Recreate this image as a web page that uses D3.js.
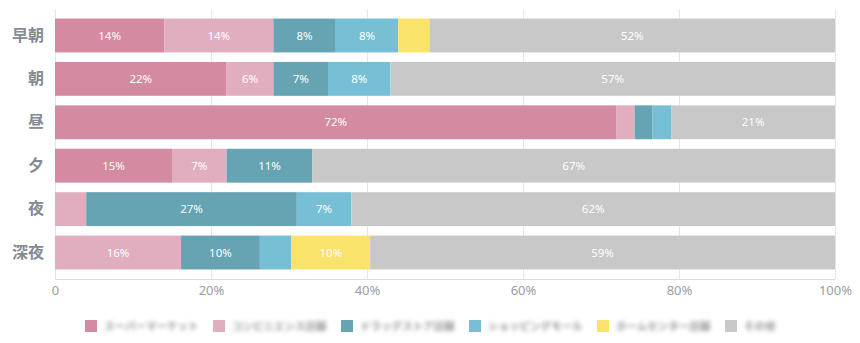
<!DOCTYPE html>
<html lang="ja">
<head>
<meta charset="utf-8">
<script src="https://cdn.jsdelivr.net/npm/d3@7"></script>
<style>
  html, body { margin: 0; padding: 0; background: #fff; }
  svg { display: block; }
</style>
</head>
<body>
<svg id="chart" width="860" height="343"></svg>
<script>
// Time-of-day rows
const periods = ["早朝", "朝", "昼", "夕", "夜", "深夜"];
// Series (legend order)
const seriesNames = ["スーパーマーケット", "コンビニエンス店舗", "ドラッグストア店舗", "ショッピングモール", "ホームセンター店舗", "その他"];
const seriesColors = ["#d48ba2", "#e0aebf", "#66a3b3", "#76bfd4", "#f9e36b", "#c8c8c8"];
// Share per period for each series (%)
const s1 = [14, 22, 72, 15, 0, 0];
const s2 = [14, 6, 2.3, 7, 4, 16];
const s3 = [8, 7, 2.3, 11, 27, 10];
const s4 = [8, 8, 2.4, 0, 7, 4];
const s5 = [4, 0, 0, 0, 0, 10];
const s6 = [52, 57, 21, 67, 62, 59];
const xTicks = [0, 0.2, 0.4, 0.6, 0.8, 1];

const seriesValues = [s1, s2, s3, s4, s5, s6];
const rows = periods.map((p, i) => {
  const r = { period: p };
  seriesNames.forEach((n, j) => { r[n] = seriesValues[j][i]; });
  return r;
});

const svg = d3.select("#chart");
const plotLeft = 55, plotRight = 835, plotTop = 9, plotBottom = 279;

const x = d3.scaleLinear().domain([0, 1]).range([plotLeft, plotRight]);
const y = d3.scaleBand().domain(periods).range([plotTop, plotBottom]).padding(0.22);
const color = d3.scaleOrdinal().domain(seriesNames).range(seriesColors);

const stack = d3.stack().keys(seriesNames).offset(d3.stackOffsetExpand);
const layers = stack(rows);

// Vertical grid
svg.append("g")
  .selectAll("line")
  .data(xTicks)
  .join("line")
  .attr("x1", d => Math.round(x(d)) + 0.5)
  .attr("x2", d => Math.round(x(d)) + 0.5)
  .attr("y1", plotTop)
  .attr("y2", plotBottom)
  .attr("stroke", "#e6e6e6")
  .attr("stroke-width", 1);

// Bars
const layerG = svg.append("g")
  .selectAll("g")
  .data(layers)
  .join("g")
  .attr("fill", d => color(d.key));

layerG.selectAll("rect")
  .data(d => d.map(v => Object.assign(v, { key: d.key })))
  .join("rect")
  .attr("x", d => x(d[0]))
  .attr("y", d => y(d.data.period))
  .attr("width", d => Math.max(0, x(d[1]) - x(d[0])))
  .attr("height", y.bandwidth());

// Value labels
layerG.selectAll("text")
  .data(d => d.filter(v => v.data[v.key] >= 5))
  .join("text")
  .attr("x", d => (x(d[0]) + x(d[1])) / 2)
  .attr("y", d => y(d.data.period) + y.bandwidth() / 2)
  .attr("dy", "0.36em")
  .attr("text-anchor", "middle")
  .attr("fill", "#fff")
  .attr("font-family", "'Noto Sans', 'Noto Sans CJK JP', sans-serif")
  .attr("font-size", 11.5)
  .text(d => d3.format(".0f")(d.data[d.key]) + "%");

// X axis
const xAxis = svg.append("g")
  .attr("transform", `translate(0,${plotBottom})`)
  .call(d3.axisBottom(x).tickValues(xTicks).tickSize(0).tickPadding(7)
    .tickFormat(d => d === 0 ? "0" : d3.format(".0%")(d)));
xAxis.select(".domain").attr("stroke", "#dcdcdc").attr("d", `M${plotLeft},0.5H${plotRight}`);
xAxis.selectAll("text")
  .attr("fill", "#9a9da3")
  .attr("font-family", "'Noto Sans', 'Noto Sans CJK JP', sans-serif")
  .attr("font-size", 13);

// Y axis
const yAxis = svg.append("g")
  .attr("transform", `translate(${plotLeft},0)`)
  .call(d3.axisLeft(y).tickSize(0).tickPadding(11));
yAxis.select(".domain").remove();
yAxis.selectAll("text")
  .attr("fill", "#868a93")
  .attr("font-family", "'Noto Sans CJK JP', sans-serif")
  .attr("font-weight", 700)
  .attr("font-size", 16);

// Legend
const defs = svg.append("defs");
defs.append("filter")
  .attr("id", "soft")
  .attr("x", "-10%").attr("y", "-60%").attr("width", "120%").attr("height", "220%")
  .append("feGaussianBlur").attr("stdDeviation", 2.2);

const legend = svg.append("g").attr("transform", "translate(85,320)");
const item = legend.selectAll("g")
  .data(seriesNames)
  .join("g")
  .attr("transform", (d, i) => `translate(${i * 128},0)`);
item.append("rect")
  .attr("width", 12).attr("height", 12)
  .attr("fill", d => color(d));
item.append("text")
  .attr("x", 19).attr("y", 6).attr("dy", "0.36em")
  .attr("fill", "#999")
  .attr("font-family", "'Noto Sans CJK JP', sans-serif")
  .attr("font-size", 10.5)
  .attr("font-weight", 700)
  .attr("filter", "url(#soft)")
  .text(d => d);
</script>
</body>
</html>
